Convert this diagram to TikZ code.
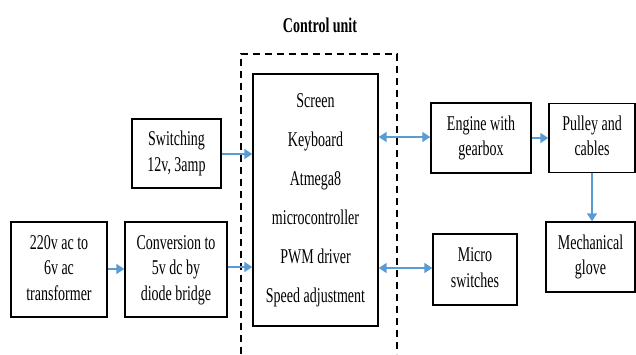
\documentclass[tikz,border=0pt]{standalone}
\usepackage{fontspec}
\setmainfont{Liberation Serif}
\usepackage{graphicx}
\usetikzlibrary{arrows.meta}
\definecolor{arrblue}{RGB}{91,155,213}
\newcommand{\stx}[1]{\scalebox{1}[1.5]{\begin{tabular}{@{}c@{}}#1\end{tabular}}}
\tikzset{
  blk/.style={draw=black, line width=1.4pt, rectangle, inner sep=0pt, font=\fontsize{14}{17}\selectfont},
  conn/.style={draw=arrblue, line width=1.6pt, -{Triangle[length=8pt,width=10pt]}},
  dconn/.style={draw=arrblue, line width=1.6pt, {Triangle[length=8pt,width=10pt]}-{Triangle[length=8pt,width=10pt]}},
}
\begin{document}
\begin{tikzpicture}[x=1pt,y=-1pt]
\useasboundingbox (0,0) rectangle (636,354);
% dashed control unit frame
\draw[line width=1.3pt, dash pattern=on 7pt off 5pt] (241,354) -- (241,54) -- (397,54) -- (397,354);
\node[font=\fontsize{14}{17}\selectfont\bfseries] (title) at (320,25) {\scalebox{1}[1.5]{Control unit}};

\node[blk, minimum width=96pt, minimum height=95pt] (trans) at (59,269.5) {\stx{220v ac to\\6v ac\\transformer}};
\node[blk, minimum width=102pt, minimum height=95pt] (conv) at (176,269.5) {\stx{Conversion to\\5v dc by\\diode bridge}};
\node[blk, minimum width=89pt, minimum height=69pt] (sw) at (176.5,153.5) {\stx{Switching\\12v, 3amp}};
\node[blk, minimum width=125pt, minimum height=252pt] (ctrl) at (315.5,200) {\stx{Screen\\[9pt] Keyboard\\[9pt] Atmega8\\[9pt] microcontroller\\[9pt] PWM driver\\[9pt] Speed adjustment}};
\node[blk, minimum width=100pt, minimum height=70pt] (eng) at (481,138) {\stx{Engine with\\gearbox}};
\node[blk, minimum width=86pt, minimum height=69pt] (pul) at (592,138) {\stx{Pulley and\\cables}};
\node[blk, minimum width=89pt, minimum height=70pt] (glove) at (590.5,257) {\stx{Mechanical\\glove}};
\node[blk, minimum width=84pt, minimum height=71pt] (micro) at (475,269.5) {\stx{Micro\\switches}};

\draw[conn] (trans.east |- 0,269) -- (conv.west |- 0,269);
\draw[conn] (conv.east |- 0,267) -- (ctrl.west |- 0,267);
\draw[conn] (sw.east |- 0,154) -- (ctrl.west |- 0,154);
\draw[dconn] (ctrl.east |- 0,137) -- (eng.west |- 0,137);
\draw[dconn] (ctrl.east |- 0,268) -- (micro.west |- 0,268);
\draw[conn] (eng.east |- 0,138) -- (pul.west |- 0,138);
\draw[conn] (pul.south) -- (glove.north -| pul.south);
\end{tikzpicture}
\end{document}
